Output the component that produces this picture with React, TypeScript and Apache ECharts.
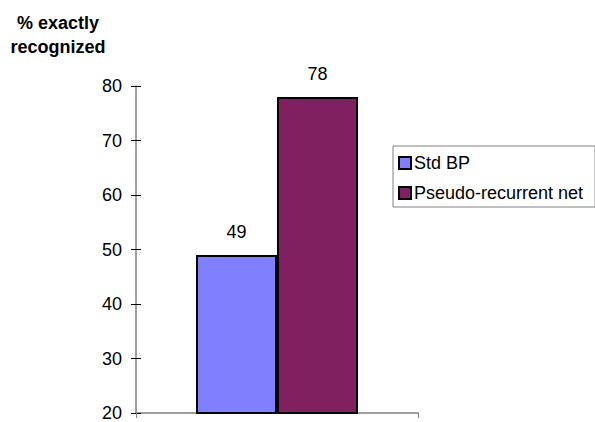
import React, { useEffect, useRef } from "react";
import * as echarts from "echarts";

const categories = [""];
const seriesNames = ["Std BP", "Pseudo-recurrent net"];
const stdBP = [49];
const pseudoRecurrent = [78];
const yTicks = { min: 20, max: 80, interval: 10 };
const titleLines = ["% exactly", "recognized"];

const FONT = "'Liberation Sans', Arial, sans-serif";

export default function App() {
  const ref = useRef<HTMLDivElement>(null);

  useEffect(() => {
    if (!ref.current) return;
    const chart = echarts.init(ref.current, undefined, { renderer: "svg" });
    const labelStyle = {
      show: true,
      position: "top" as const,
      distance: 14,
      color: "#000",
      fontSize: 18,
      fontFamily: FONT,
    };
    chart.setOption({
      animation: false,
      backgroundColor: "#fff",
      textStyle: { fontFamily: FONT },
      graphic: titleLines.map((t, i) => ({
        type: "text",
        x: 58,
        y: 23 + i * 24,
        style: {
          text: t,
          fill: "#000",
          font: `bold 18px ${FONT}`,
          textAlign: "center",
          textVerticalAlign: "middle",
        },
      })),
      legend: {
        orient: "vertical",
        left: 393,
        top: 146,
        width: 190,
        padding: [7, 12, 4, 5],
        itemGap: 10,
        itemWidth: 12,
        itemHeight: 12,
        borderColor: "#808080",
        borderWidth: 1,
        textStyle: { fontSize: 18, color: "#000", fontFamily: FONT, lineHeight: 20, padding: [0, 0, 0, -2] },
        data: seriesNames.map((n) => ({ name: n, icon: "rect" })),
      },
      grid: { left: 136, right: 177, top: 86, bottom: 6, containLabel: false },
      xAxis: {
        type: "category",
        data: categories,
        boundaryGap: true,
        axisLine: { lineStyle: { color: "#808080", width: 1.5 } },
        axisTick: { show: true, length: 5, lineStyle: { color: "#808080" } },
        axisLabel: { show: false },
      },
      yAxis: [
        {
          type: "value",
          min: yTicks.min,
          max: yTicks.max,
          interval: yTicks.interval,
          axisLine: { show: true, lineStyle: { color: "#808080", width: 1.5 } },
          axisTick: { show: true, length: 5, lineStyle: { color: "#000" } },
          axisLabel: { color: "#000", fontSize: 18, fontFamily: FONT, margin: 14 },
          splitLine: { show: false },
        },
        {
          type: "value",
          position: "left",
          min: yTicks.min,
          max: yTicks.max,
          interval: yTicks.interval,
          axisLine: { show: false },
          axisTick: { show: true, inside: true, length: 5, lineStyle: { color: "#000" } },
          axisLabel: { show: false },
          splitLine: { show: false },
        },
      ],
      series: [
        {
          name: seriesNames[0],
          type: "bar",
          data: stdBP,
          barWidth: 81,
          barGap: "0%",
          itemStyle: { color: "#8080ff", borderColor: "#000", borderWidth: 2 },
          label: labelStyle,
        },
        {
          name: seriesNames[1],
          type: "bar",
          data: pseudoRecurrent,
          barWidth: 81,
          barGap: "0%",
          itemStyle: { color: "#802060", borderColor: "#000", borderWidth: 2 },
          label: labelStyle,
        },
      ],
    });
    return () => chart.dispose();
  }, []);

  return <div ref={ref} style={{ width: 595, height: 422, position: "absolute", left: 0, top: 0 }} />;
}
